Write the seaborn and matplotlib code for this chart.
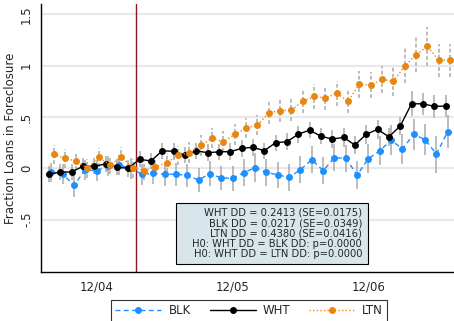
import numpy as np
import pandas as pd
import matplotlib
matplotlib.use("Agg")
import matplotlib.pyplot as plt
from matplotlib.patches import Rectangle
import seaborn as sns

# Monthly event-study estimates, month 0 = 8/04
months = list(range(36))
tick_pos = [4, 16, 28]
tick_labels = ["12/04", "12/05", "12/06"]
event_month = 7.5

blk = [-0.039, -0.055, -0.165, -0.017, -0.023, 0.022, 0.030, 0.000,
       -0.058, -0.049, -0.058, -0.058, -0.068, -0.114, -0.052, -0.094,
       -0.097, -0.042, 0.006, -0.039, -0.065, -0.088, -0.013, 0.085,
       -0.023, 0.103, 0.097, -0.065, 0.094, 0.170, 0.275, 0.188,
       0.331, 0.278, 0.139, 0.356]
wht = [-0.058, -0.036, -0.036, 0.020, 0.020, 0.042, 0.010, 0.000,
       0.088, 0.071, 0.171, 0.165, 0.129, 0.170, 0.152, 0.160,
       0.162, 0.194, 0.204, 0.171, 0.249, 0.259, 0.331, 0.372,
       0.312, 0.285, 0.301, 0.227, 0.331, 0.379, 0.307, 0.411,
       0.628, 0.628, 0.603, 0.606]
ltn = [0.136, 0.097, 0.071, 0.000, 0.107, 0.032, 0.113, 0.000,
       -0.023, 0.016, 0.055, 0.126, 0.152, 0.222, 0.294, 0.259,
       0.330, 0.392, 0.421, 0.541, 0.560, 0.567, 0.652, 0.700,
       0.684, 0.730, 0.655, 0.817, 0.810, 0.866, 0.846, 0.998,
       1.105, 1.187, 1.053, 1.053]

# 95% CI half-widths
blk_ci = [0.09, 0.10, 0.11, 0.10, 0.10, 0.10, 0.10, 0.10,
          0.10, 0.10, 0.11, 0.11, 0.11, 0.12, 0.12, 0.12,
          0.12, 0.13, 0.14, 0.13, 0.13, 0.13, 0.13, 0.13,
          0.13, 0.13, 0.13, 0.14, 0.14, 0.14, 0.15, 0.15,
          0.15, 0.15, 0.18, 0.16]
wht_ci = [0.08, 0.08, 0.08, 0.08, 0.08, 0.08, 0.08, 0.08,
          0.08, 0.08, 0.08, 0.08, 0.08, 0.08, 0.08, 0.08,
          0.08, 0.08, 0.08, 0.08, 0.08, 0.08, 0.08, 0.08,
          0.08, 0.09, 0.09, 0.09, 0.09, 0.09, 0.09, 0.09,
          0.12, 0.11, 0.11, 0.11]
ltn_ci = [0.09, 0.09, 0.09, 0.09, 0.09, 0.09, 0.09, 0.09,
          0.09, 0.09, 0.09, 0.09, 0.10, 0.10, 0.10, 0.10,
          0.10, 0.10, 0.10, 0.11, 0.11, 0.11, 0.11, 0.12,
          0.12, 0.12, 0.12, 0.13, 0.13, 0.13, 0.14, 0.17,
          0.17, 0.19, 0.16, 0.16]

groups = ["BLK", "WHT", "LTN"]
offsets = {"BLK": 0.0, "WHT": -0.2, "LTN": 0.2}
colors = {"BLK": "#1e8fff", "WHT": "#000000", "LTN": "#e8860f"}
dashes = {"BLK": (3.5, 2.5), "WHT": "", "LTN": (1.0, 1.6)}
bar_styles = {"BLK": "-", "WHT": "-", "LTN": (0, (2.5, 1.5))}

box_text = ("WHT DD = 0.2413 (SE=0.0175)\n"
            "BLK DD = 0.0217 (SE=0.0349)\n"
            "LTN DD = 0.4380 (SE=0.0416)\n"
            "H0: WHT DD = BLK DD: p=0.0000\n"
            "H0: WHT DD = LTN DD: p=0.0000")

vals = {"BLK": blk, "WHT": wht, "LTN": ltn}
cis = {"BLK": blk_ci, "WHT": wht_ci, "LTN": ltn_ci}

frames = []
for g in groups:
    frames.append(pd.DataFrame({
        "month": np.array(months) + offsets[g],
        "coef": vals[g],
        "ci": cis[g],
        "group": g,
    }))
df = pd.concat(frames, ignore_index=True)

sns.set_style("white")
plt.rcParams["font.family"] = ["DejaVu Sans"]

fig = plt.figure(figsize=(4.54, 3.21), dpi=100)
ax = fig.add_axes([0.0914, 0.1526, 0.9086, 0.835])

# horizontal grid
for yv in [-0.5, 0, 0.5, 1, 1.5]:
    ax.axhline(yv, color="#e9e9e9", lw=1.6, zorder=0)

# confidence intervals
for g in groups:
    sub = df[df["group"] == g]
    ax.vlines(sub["month"], sub["coef"] - sub["ci"], sub["coef"] + sub["ci"],
              colors="#aaaaaa", linewidth=1.1, linestyles=bar_styles[g], zorder=1)

ax.axvline(event_month, color="#8a1a1a", lw=1.0, zorder=1.5)

sns.lineplot(data=df, x="month", y="coef", hue="group", style="group",
             hue_order=groups, style_order=groups, palette=colors,
             dashes=dashes, markers={g: "o" for g in groups},
             markersize=5.0, markeredgewidth=0, linewidth=1.0,
             ax=ax, zorder=3)

handles, labels = ax.get_legend_handles_labels()
if ax.get_legend() is not None:
    ax.get_legend().remove()

ax.set_xlim(-0.86, 35.55)
ax.set_ylim(-1.01, 1.6)
ax.set_xticks(months)
ax.set_xticklabels([tick_labels[tick_pos.index(m)] if m in tick_pos else "" for m in months],
                   fontsize=8.5)
ax.set_yticks([-0.5, 0, 0.5, 1, 1.5])
ax.set_yticklabels(["-.5", "0", ".5", "1", "1.5"], rotation=90, va="center", fontsize=8.5)
ax.tick_params(axis="both", direction="out", length=3.5, width=0.8, color="black", pad=2.5)
ax.set_xlabel("")
ax.set_ylabel("Fraction Loans in Foreclosure", fontsize=8.5, labelpad=2)

for side in ["top", "right"]:
    ax.spines[side].set_visible(False)
for side in ["left", "bottom"]:
    ax.spines[side].set_color("black")
    ax.spines[side].set_linewidth(1.0)

# results box
ax.add_patch(Rectangle((0.326, 0.030), 0.4655, 0.2275, transform=ax.transAxes,
                       facecolor="#d8e6ec", edgecolor="black", lw=0.8, zorder=4))
ax.text(0.777, 0.1437, box_text, transform=ax.transAxes, ha="right", va="center",
        multialignment="right", fontsize=7.2, linespacing=1.05, zorder=5)

leg_handles = [h for h, l in zip(handles, labels) if l in groups]
leg_labels = [l for l in labels if l in groups]
leg = fig.legend(leg_handles, leg_labels, loc="lower center", bbox_to_anchor=(0.549, -0.02),
                 ncol=3, frameon=True, fancybox=False, edgecolor="black", fontsize=8.5,
                 handlelength=3.9, columnspacing=1.6, handletextpad=0.6, borderpad=0.35)
leg.get_frame().set_linewidth(0.8)

fig.savefig("out.png", dpi=100)
